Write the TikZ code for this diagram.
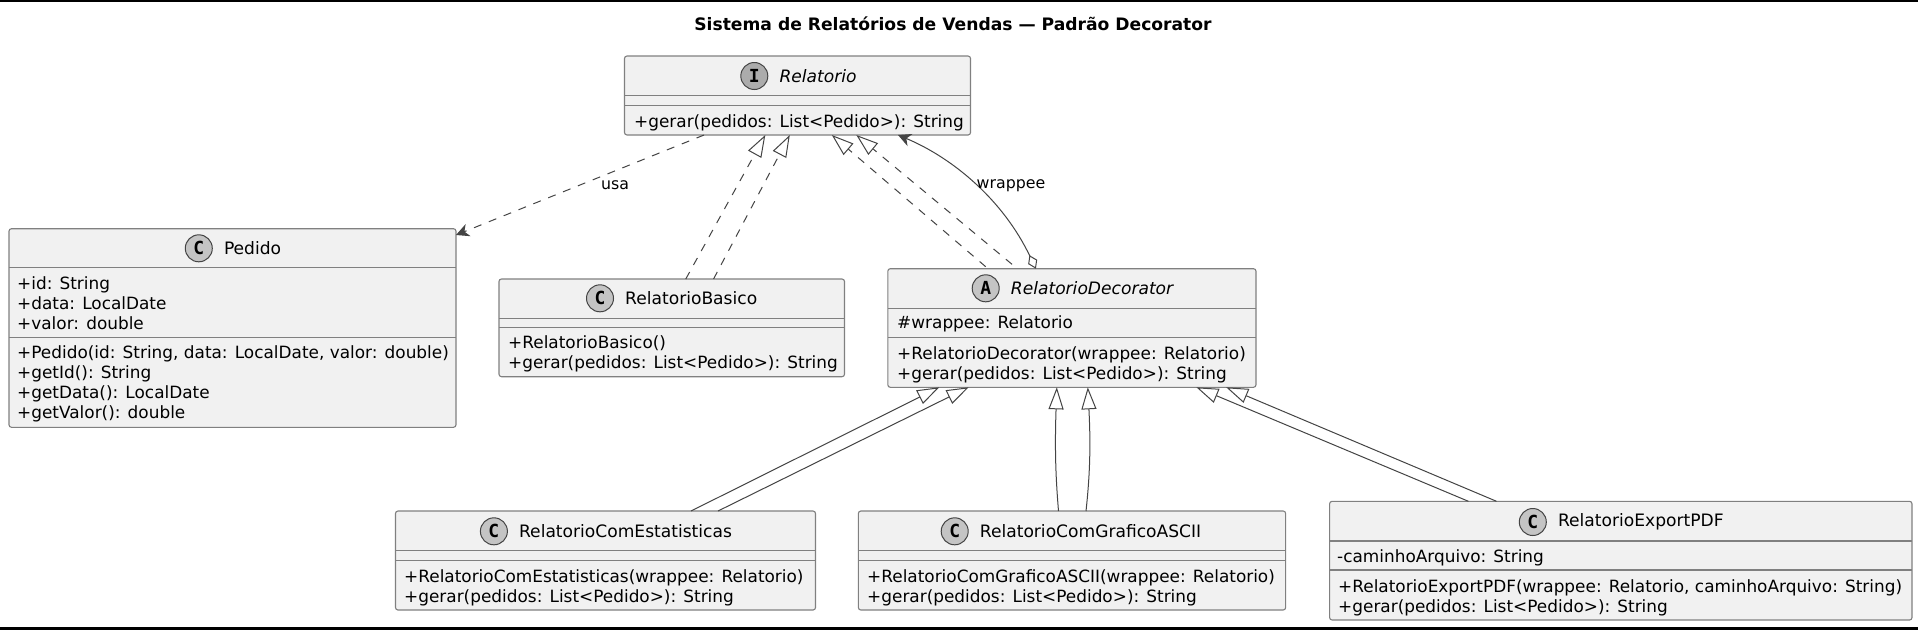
\documentclass[tikz,border=0pt]{standalone}
\usepackage{fontspec}
\setmainfont{DejaVu Sans}
\setmonofont{DejaVu Sans Mono}
\usepackage{xcolor}
\usepackage{tikz}
\usetikzlibrary{arrows.meta, positioning}
\definecolor{boxfill}{HTML}{F1F1F1}
\definecolor{boxline}{HTML}{808080}
\definecolor{iconfill}{HTML}{C4C4C4}
\definecolor{edgeline}{HTML}{444444}

\begin{document}
\begin{tikzpicture}[
    x=1pt, y=-1pt,
    % Yahan class box ke styles
    classbox/.style={
        rectangle,
        draw=boxline,
        fill=boxfill,
        rounded corners=2.5pt,
        line width=1.1pt,
        inner sep=0pt,
        outer sep=0pt
    },
    sepline/.style={draw=boxline, line width=1.1pt},
    classicon/.style={
        circle,
        draw=edgeline,
        fill=iconfill,
        line width=1pt,
        minimum size=27pt,
        inner sep=0pt,
        font=\fontsize{18}{18}\selectfont\ttfamily\bfseries
    },
    classname/.style={anchor=west, inner sep=0pt, font=\fontsize{17.1}{20}\selectfont},
    members/.style={
        anchor=west,
        align=left,
        inner sep=0pt,
        font=\fontsize{16.9}{20}\selectfont
    },
    edgelabel/.style={inner sep=0pt, font=\fontsize{15.8}{18}\selectfont},
    realize/.style={draw=edgeline, line width=1pt, dash pattern=on 8pt off 8pt, -{Triangle[open, length=22pt, width=15pt, fill=white]}},
    extend/.style={draw=edgeline, line width=1pt, -{Triangle[open, length=22pt, width=15pt, fill=white]}},
    usesline/.style={draw=edgeline, line width=1pt, dash pattern=on 8pt off 8pt, -{Stealth[length=13pt, width=13pt, inset=4pt]}}
]
    % Page and bars
    \fill[white] (0,0) rectangle (1918,630);
    \useasboundingbox (0,0) rectangle (1918,630);
    \fill[black] (0,0) rectangle (1918,2);
    \fill[black] (0,627) rectangle (1918,630);

    % Title
    \node [inner sep=0pt, font=\fontsize{17.15}{20}\selectfont\bfseries] (title) at (953,24) {Sistema de Relatórios de Vendas — Padrão Decorator};

    % Boxes
    \node [classbox, minimum width=346pt, minimum height=79pt] (rel) at (797.5,95.5) {};
    \node [classbox, minimum width=447pt, minimum height=198.6pt] (ped) at (232.5,328) {};
    \node [classbox, minimum width=345.5pt, minimum height=97.7pt] (bas) at (671.75,327.85) {};
    \node [classbox, minimum width=368.2pt, minimum height=118.6pt] (dec) at (1071.9,328) {};
    \node [classbox, minimum width=420pt, minimum height=99pt] (est) at (605.5,560.5) {};
    \node [classbox, minimum width=427.3pt, minimum height=99pt] (asc) at (1072,560.5) {};
    \node [classbox, minimum width=582.4pt, minimum height=118.7pt] (pdf) at (1620.8,560.65) {};

    % Separators
    \draw [sepline] (rel.west |- 0,95.7) -- (rel.east |- 0,95.7);
    \draw [sepline] (rel.west |- 0,105.3) -- (rel.east |- 0,105.3);
    \draw [sepline] (ped.west |- 0,267.7) -- (ped.east |- 0,267.7);
    \draw [sepline] (ped.west |- 0,337.3) -- (ped.east |- 0,337.3);
    \draw [sepline] (bas.west |- 0,318.3) -- (bas.east |- 0,318.3);
    \draw [sepline] (bas.west |- 0,327.7) -- (bas.east |- 0,327.7);
    \draw [sepline] (dec.west |- 0,308.3) -- (dec.east |- 0,308.3);
    \draw [sepline] (dec.west |- 0,337.5) -- (dec.east |- 0,337.5);
    \draw [sepline] (est.west |- 0,550.3) -- (est.east |- 0,550.3);
    \draw [sepline] (est.west |- 0,560.3) -- (est.east |- 0,560.3);
    \draw [sepline] (asc.west |- 0,550.3) -- (asc.east |- 0,550.3);
    \draw [sepline] (asc.west |- 0,560.3) -- (asc.east |- 0,560.3);
    \draw [sepline] (pdf.west |- 0,541) -- (pdf.east |- 0,541);
    \draw [sepline] (pdf.west |- 0,570) -- (pdf.east |- 0,570);

    % Icons
    \node [classicon, fill=iconfill!88!black] (relicon) at (754.3,76) {I};
    \node [classicon] (pedicon) at (198.8,248.3) {C};
    \node [classicon] (basicon) at (600,298.3) {C};
    \node [classicon] (decicon) at (985.7,288.3) {A};
    \node [classicon] (esticon) at (493.9,531.3) {C};
    \node [classicon] (ascicon) at (954.7,531.3) {C};
    \node [classicon] (pdficon) at (1532.8,522) {C};

    % Names
    \node [classname, right=11pt of relicon, font=\fontsize{17.1}{20}\selectfont\itshape] (relname) {Relatorio};
    \node [classname, right=11pt of pedicon] (pedname) {Pedido};
    \node [classname, right=11pt of basicon] (basname) {RelatorioBasico};
    \node [classname, right=11pt of decicon, font=\fontsize{17.1}{20}\selectfont\itshape] (decname) {RelatorioDecorator};
    \node [classname, right=11pt of esticon] (estname) {RelatorioComEstatisticas};
    \node [classname, right=11pt of ascicon] (ascname) {RelatorioComGraficoASCII};
    \node [classname, right=11pt of pdficon] (pdfname) {RelatorioExportPDF};

    % Members
    \node [members] (relmeth) at (634,122.4) {+gerar(pedidos: List<Pedido>): String};
    \node [members] (pedattr) at (17,303.3) {+id: String\\+data: LocalDate\\+valor: double};
    \node [members] (pedmeth) at (17,384) {+Pedido(id: String, data: LocalDate, valor: double)\\+getId(): String\\+getData(): LocalDate\\+getValor(): double};
    \node [members] (basmeth) at (508,354) {+RelatorioBasico()\\+gerar(pedidos: List<Pedido>): String};
    \node [members] (decattr) at (897,323.5) {\#wrappee: Relatorio};
    \node [members] (decmeth) at (897,365) {+RelatorioDecorator(wrappee: Relatorio)\\+gerar(pedidos: List<Pedido>): String};
    \node [members] (estmeth) at (404,587.5) {+RelatorioComEstatisticas(wrappee: Relatorio)\\+gerar(pedidos: List<Pedido>): String};
    \node [members] (ascmeth) at (867,587.5) {+RelatorioComGraficoASCII(wrappee: Relatorio)\\+gerar(pedidos: List<Pedido>): String};
    \node [members] (pdfattr) at (1337,558) {-caminhoArquivo: String};
    \node [members] (pdfmeth) at (1338,597.5) {+RelatorioExportPDF(wrappee: Relatorio, caminhoArquivo: String)\\+gerar(pedidos: List<Pedido>): String};

    % Paths (Arrows)
    \draw [usesline] ([xshift=-93.5pt]rel.south) -- ([yshift=-6.3pt]ped.north east);
    \node [edgelabel] (usalabel) at (615,185) {usa};
    \draw [realize] ([xshift=14pt]bas.north) -- ([xshift=-32.2pt]rel.south);
    \draw [realize] ([xshift=41.8pt]bas.north) -- ([xshift=-7.7pt]rel.south);
    \draw [realize] ([xshift=-86.2pt,yshift=2pt]dec.north) -- ([xshift=34.3pt]rel.south);
    \draw [realize] ([xshift=-59.9pt,yshift=4.4pt]dec.north) -- ([xshift=58.8pt]rel.south);
    \draw [draw=edgeline, line width=1pt, {Diamond[open, length=15pt, width=10pt, fill=white]}-{Stealth[length=13pt, width=13pt, inset=4pt]}]
        ([xshift=-36pt]dec.north) .. controls (1003,200) and (953,158) .. ([xshift=100.5pt]rel.south);
    \node [edgelabel] (wraplabel) at (1011,185.5) {wrappee};
    \draw [extend] ([xshift=85.5pt]est.north) -- ([xshift=-132.7pt]dec.south);
    \draw [extend] ([xshift=112.5pt]est.north) -- ([xshift=-103.3pt]dec.south);
    \draw [extend] ([xshift=-13.5pt]asc.north) .. controls (1055,470) and (1055,440) .. ([xshift=-15.1pt]dec.south);
    \draw [extend] ([xshift=14pt]asc.north) .. controls (1090.5,470) and (1090.5,440) .. ([xshift=15.9pt]dec.south);
    \draw [extend] ([xshift=-152.4pt]pdf.north) -- ([xshift=124.5pt]dec.south);
    \draw [extend] ([xshift=-124.3pt]pdf.north) -- ([xshift=154.3pt]dec.south);
\end{tikzpicture}
\end{document}
